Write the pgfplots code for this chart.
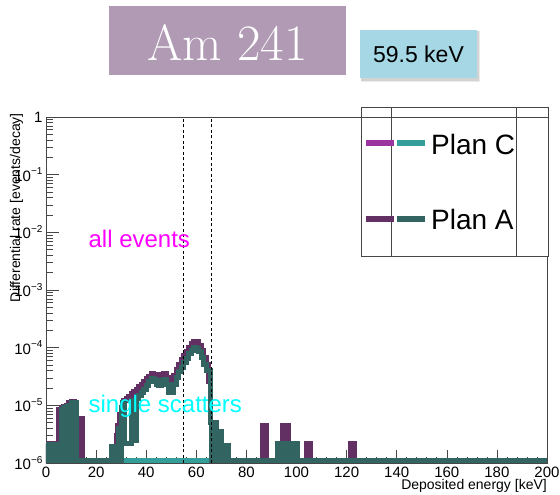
\documentclass[border=0pt]{standalone}
\usepackage{pgfplots}
\pgfplotsset{compat=1.18}
\usepackage{pgfplotstable}
\usepackage{fontspec}
\newfontfamily\helv{Liberation Sans}
\definecolor{planCall}{RGB}{156,52,160}
\definecolor{planCsing}{RGB}{52,158,154}
\definecolor{planAall}{RGB}{98,48,98}
\definecolor{planAsing}{RGB}{50,100,98}
\definecolor{titlebg}{RGB}{176,154,180}
\definecolor{keVbg}{RGB}{166,215,229}
\definecolor{framegray}{RGB}{70,70,70}
\definecolor{txtmag}{RGB}{255,0,255}
\definecolor{txtcyan}{RGB}{0,255,255}

% Plan A, single scatters (bin low edge, rate); 1.1e-6 = empty bin
\pgfplotstableread{
x y
0 2.1e-6
0.5 1.1e-6
1 2.1e-6
1.5 1.1e-6
2 2.1e-6
2.5 1.1e-6
3 2.1e-6
3.5 1.1e-6
4 2.1e-6
4.5 1.1e-6
6 8.5e-6
6.5 1.1e-6
7 9.0e-6
7.5 1.1e-6
8 9.5e-6
8.5 1.1e-6
9 1.0e-5
9.5 1.1e-6
10 1.1e-5
10.5 1.1e-6
11.5 1.1e-5
12 1.1e-6
26 1.9e-6
26.5 1.1e-6
27 1.9e-6
27.5 1.1e-6
28 1.9e-6
28.5 1.1e-6
29 3.9e-6
29.5 1.1e-6
30 9.0e-6
30.5 1.1e-5
31.5 2.2e-6
34 1.2e-5
34.6 2.5e-6
36.2 1.3e-5
37 1.5e-5
38 1.7e-5
39 1.9e-5
40 2.2e-5
41 2.6e-5
42 2.9e-5
43 2.8e-5
44 2.3e-5
45 2.2e-5
46 2.7e-5
47 2.8e-5
48 2.3e-5
49 1.7e-5
50 1.7e-5
51 2.3e-5
52 3.0e-5
53 3.8e-5
54 4.6e-5
55 5.5e-5
56 6.5e-5
57 7.8e-5
58 9.0e-5
59 1.0e-4
60 9.8e-5
61 8.5e-5
62 6.8e-5
63 5.2e-5
64 4.0e-5
65.5 5.0e-6
66 1.1e-6
66.5 5.0e-6
67 1.1e-6
67.5 5.0e-6
68 1.1e-6
68.5 3.5e-6
69 1.1e-6
69.5 3.5e-6
70 1.1e-6
70.5 2.0e-6
71 1.1e-6
71.5 2.0e-6
72 1.1e-6
72.5 2.0e-6
73 1.1e-6
92.5 2.2e-6
93 1.1e-6
93.5 2.2e-6
94 1.1e-6
94.5 2.2e-6
95 1.1e-6
95.5 2.2e-6
96 1.1e-6
96.5 2.2e-6
97 1.1e-6
97.5 2.2e-6
98 1.1e-6
98.5 2.2e-6
99 1.1e-6
99.5 2.2e-6
100 2.2e-6
100.5 1.1e-6
200 1.1e-6
}\planAsingle

% Plan A, all events
\pgfplotstableread{
x y
0 2.2e-6
0.5 1.1e-6
1 2.2e-6
1.5 1.1e-6
2 2.2e-6
2.5 1.1e-6
3 2.2e-6
3.5 1.1e-6
4 2.2e-6
4.5 1.1e-6
5 8.5e-6
5.5 1.1e-6
6 9.0e-6
6.5 1.1e-6
7 9.5e-6
7.5 1.1e-6
8 1.0e-5
8.5 1.1e-6
9 1.1e-5
9.5 1.1e-6
10 1.15e-5
10.5 1.1e-6
11 1.15e-5
11.5 1.1e-6
12 5.8e-6
12.5 1.1e-6
13 5.8e-6
13.5 1.1e-6
14 5.8e-6
14.5 1.1e-6
26 1.9e-6
26.5 1.1e-6
27 1.9e-6
27.5 1.1e-6
28 3.0e-6
28.5 4.5e-6
29.5 7.0e-6
30 9.0e-6
31 1.2e-5
32 1.3e-5
33 1.45e-5
34 1.6e-5
35 1.75e-5
36 1.9e-5
37 2.1e-5
38 2.3e-5
39 2.6e-5
40 2.9e-5
41 3.2e-5
42 3.5e-5
43 3.4e-5
44 3.0e-5
45 2.9e-5
46 3.4e-5
47 3.5e-5
48 3.0e-5
49 2.5e-5
50 2.6e-5
51 3.3e-5
52 4.2e-5
53 5.2e-5
54 6.2e-5
55 7.3e-5
56 8.6e-5
57 1.0e-4
58 1.17e-4
59 1.3e-4
60 1.27e-4
61 1.1e-4
62 8.8e-5
63 6.8e-5
64 5.2e-5
65 2.6e-5
65.5 5.0e-6
66 1.1e-6
66.5 5.0e-6
67 1.1e-6
67.5 5.0e-6
68 1.1e-6
68.5 3.5e-6
69 1.1e-6
69.5 3.5e-6
70 1.1e-6
70.5 2.0e-6
71 1.1e-6
71.5 2.0e-6
72 1.1e-6
72.5 2.0e-6
73 1.1e-6
86.5 4.4e-6
87 1.1e-6
87.5 4.4e-6
88 1.1e-6
92.5 2.2e-6
93 1.1e-6
93.5 2.2e-6
94 1.1e-6
94.5 4.4e-6
95 1.1e-6
95.5 4.4e-6
96 1.1e-6
96.5 4.4e-6
97 1.1e-6
97.5 2.2e-6
98 1.1e-6
98.5 2.2e-6
99 1.1e-6
99.5 2.2e-6
100 2.2e-6
100.5 1.1e-6
104 2.2e-6
104.5 1.1e-6
105 2.2e-6
105.5 1.1e-6
121.5 2.2e-6
122 1.1e-6
122.5 2.2e-6
123 1.1e-6
200 1.1e-6
}\planAall

% Plan C (no entries above the floor)
\pgfplotstableread{
x y
0 1.1e-6
200 1.1e-6
}\planCall
\pgfplotstableread{
x y
0 1.1e-6
200 1.1e-6
}\planCsingle

\newcommand{\tl}[1]{10\raisebox{0.42em}{\fontsize{10}{10}\selectfont #1}}

\begin{document}
\begin{tikzpicture}[x=1pt,y=1pt]
\useasboundingbox (0,0) rectangle (560,495);
% title boxes
\fill[titlebg] (109,420) rectangle (346,489);
\node[text=white, font=\fontsize{51}{51}\selectfont] at (227.5,453) {Am 241};
\fill[black, opacity=0.08] (361,413) rectangle (480,464);
\fill[black, opacity=0.10] (361,414) rectangle (479,464);
\fill[keVbg] (360,417) rectangle (477,465);
\node[font=\helv\fontsize{23}{23}\selectfont] at (418.5,441) {59.5 keV};

\begin{axis}[
  at={(46pt,32pt)}, anchor=south west, scale only axis,
  width=501pt, height=346pt,
  xmin=0, xmax=200, ymin=1e-6, ymax=1, ymode=log,
  axis line style={framegray, line width=0.8pt},
  xtick={0,20,...,200}, minor x tick num=4,
  ytick={1e-6,1e-5,1e-4,1e-3,1e-2,1e-1,1},
  yticklabels={\tl{−6},\tl{−5},\tl{−4},\tl{−3},\tl{−2},\tl{−1},1},
  minor ytick={2e-6,3e-6,4e-6,5e-6,6e-6,7e-6,8e-6,9e-6,
               2e-5,3e-5,4e-5,5e-5,6e-5,7e-5,8e-5,9e-5,
               2e-4,3e-4,4e-4,5e-4,6e-4,7e-4,8e-4,9e-4,
               2e-3,3e-3,4e-3,5e-3,6e-3,7e-3,8e-3,9e-3,
               2e-2,3e-2,4e-2,5e-2,6e-2,7e-2,8e-2,9e-2,
               2e-1,3e-1,4e-1,5e-1,6e-1,7e-1,8e-1,9e-1},
  xtick pos=bottom, ytick pos=left, tick align=inside,
  major tick length=13pt, minor tick length=6.5pt,
  tick style={framegray, line width=0.6pt},
  ticklabel style={font=\helv\fontsize{15}{15}\selectfont, text=black},
  /pgf/number format/assume math mode=true,
  every axis plot/.append style={const plot mark left, mark=none, line width=5pt},
]
\addplot[planCall] table[x=x,y=y] {\planCall};
\addplot[planCsing] table[x=x,y=y] {\planCsingle};
\addplot[planAall] table[x=x,y=y] {\planAall};
\addplot[planAsing] table[x=x,y=y] {\planAsingle};
\addplot[sharp plot, black, line width=0.7pt, dash pattern=on 3pt off 2.5pt] coordinates {(55,1e-6) (55,1)};
\addplot[sharp plot, black, line width=0.7pt, dash pattern=on 3pt off 2.5pt] coordinates {(66,1e-6) (66,1)};
\node[text=txtmag, anchor=base west, font=\helv\fontsize{24}{24}\selectfont] at (axis cs:15.6,5.5e-3) {all events};
\node[text=txtcyan, anchor=base west, font=\helv\fontsize{24}{24}\selectfont] at (axis cs:15.6,7.4e-6) {single scatters};
\end{axis}

% axis titles
\node[font=\helv\fontsize{14}{14}\selectfont, anchor=base east, inner sep=0pt] at (547,5) {Deposited energy [keV]};
\node[font=\helv\fontsize{14}{14}\selectfont, rotate=90, anchor=base east, inner sep=0pt] at (20,382) {Differential rate [events/decay]};

% legend
\fill[white] (361,239) rectangle (548,388);
\draw[framegray, line width=0.8pt] (361,239) rectangle (548,388);
\draw[framegray, line width=0.8pt] (391,239) -- (391,388);
\draw[framegray, line width=0.8pt] (516,239) -- (516,388);
\draw[framegray, line width=0.8pt] (361,378) -- (548,378);
\draw[planCall, line width=6pt] (366,351.5) -- (394,351.5);
\draw[planCsing, line width=6pt] (397,351.5) -- (425,351.5);
\draw[planAall, line width=6pt] (366,275.5) -- (394,275.5);
\draw[planAsing, line width=6pt] (397,275.5) -- (425,275.5);
\node[font=\helv\fontsize{28}{28}\selectfont, anchor=base west, inner sep=0pt] at (431,340) {Plan C};
\node[font=\helv\fontsize{28}{28}\selectfont, anchor=base west, inner sep=0pt] at (431,265) {Plan A};
\end{tikzpicture}
\end{document}
